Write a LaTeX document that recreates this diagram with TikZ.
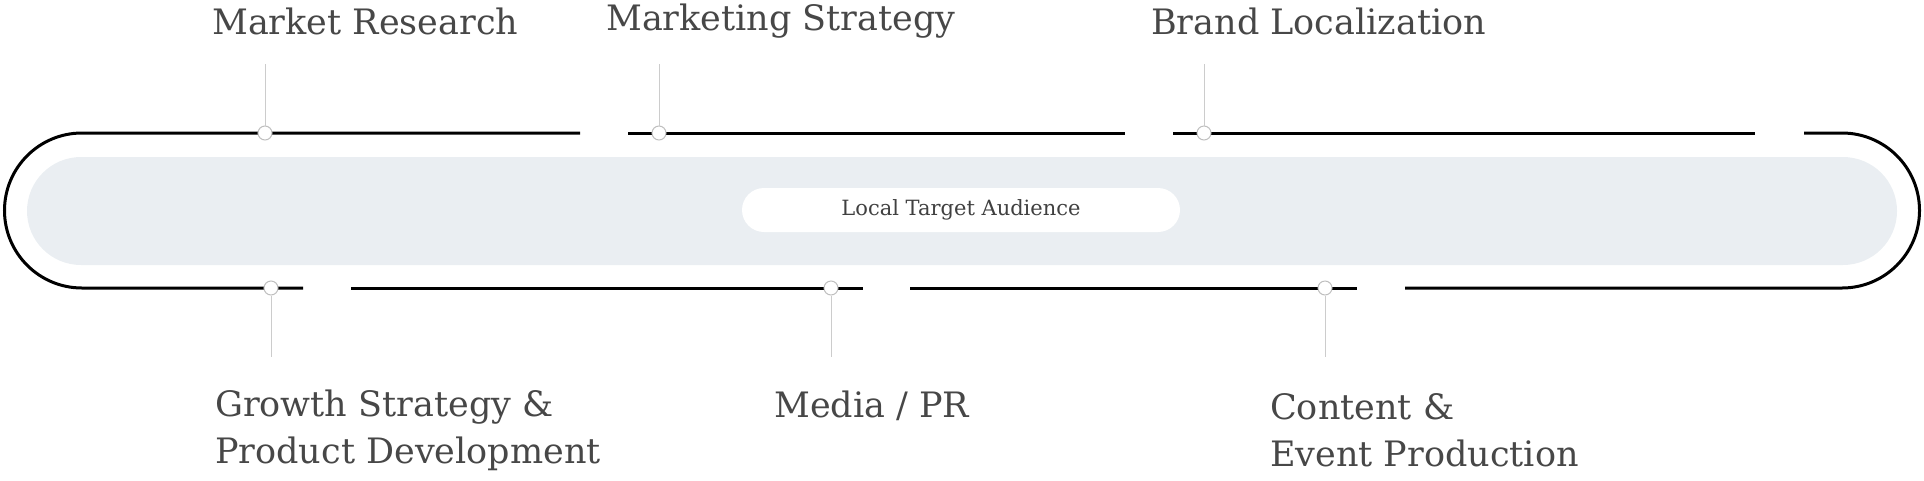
\documentclass[tikz,border=0pt]{standalone}
\usepackage{fontspec}
\setmainfont{DejaVu Serif}
\begin{document}
\begin{tikzpicture}[x=1pt,y=-1pt,
  lbl/.style={anchor=west,text=black!72,font=\fontsize{35}{47}\selectfont,align=left,inner sep=0},
  mk/.style={circle,draw=black!25,fill=white,line width=1pt,minimum size=14,inner sep=0},
  stem/.style={draw=black!20,line width=1pt},
  rail/.style={draw=black,line width=3pt}]
\useasboundingbox (0,0) rectangle (1924,480);
\fill[fill={rgb,255:red,234;green,238;blue,242}] (27,157) [rounded corners=54] rectangle (1897,265);
\node[fill=white,rounded corners=22,minimum width=438,minimum height=44,inner sep=0,font=\fontsize{21}{25}\selectfont,text=black!75] (c) at (961,210) {Local Target Audience};
% outer rail
\draw[rail] (580,133) -- (82,133) arc[start angle=-90,end angle=-270,radius=77.5] -- (303,288);
\draw[rail] (628,133) -- (1125,133);
\draw[rail] (1173,133) -- (1755,133);
\draw[rail] (1804,133) -- (1842,133) arc[start angle=-90,end angle=90,radius=77.5] -- (1405,288);
\draw[rail] (351,288) -- (863,288);
\draw[rail] (910,288) -- (1357,288);
% markers
\node[mk] (t1) at (265,133) {};
\node[mk] (t2) at (659,133) {};
\node[mk] (t3) at (1204,133) {};
\node[mk] (b1) at (271,288) {};
\node[mk] (b2) at (831,288) {};
\node[mk] (b3) at (1325,288) {};
\coordinate (t1e) at (265,64);
\coordinate (t2e) at (659,64);
\coordinate (t3e) at (1204,64);
\coordinate (b1e) at (271,357);
\coordinate (b2e) at (831,357);
\coordinate (b3e) at (1325,357);
\draw[stem] (t1) -- (t1e); \draw[stem] (t2) -- (t2e); \draw[stem] (t3) -- (t3e);
\draw[stem] (b1) -- (b1e); \draw[stem] (b2) -- (b2e); \draw[stem] (b3) -- (b3e);
% labels
\node[lbl] (l1) at (212,21) {Market Research};
\node[lbl] (l2) at (606,21) {Marketing Strategy};
\node[lbl] (l3) at (1151,21) {Brand Localization};
\node[lbl] (l4) at (215,430) {Growth Strategy \&\\Product Development};
\node[lbl] (l5) at (774,406) {Media / PR};
\node[lbl] (l6) at (1270,430) {Content \&\\Event Production};
\end{tikzpicture}
\end{document}
